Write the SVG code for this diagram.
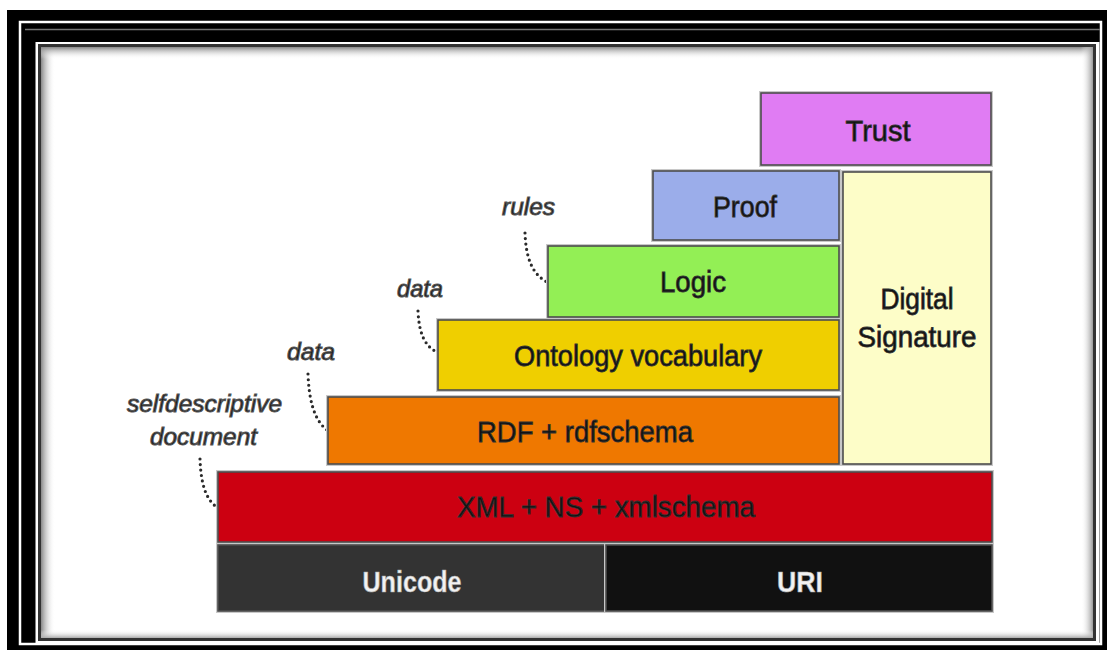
<svg xmlns="http://www.w3.org/2000/svg" width="1107" height="650" viewBox="0 0 1107 650">
<defs>
<linearGradient id="gl" x1="0" y1="0" x2="1" y2="0"><stop offset="0" stop-color="#888"/><stop offset="1" stop-color="#fff" stop-opacity="0"/></linearGradient>
<linearGradient id="gt" x1="0" y1="0" x2="0" y2="1"><stop offset="0" stop-color="#888"/><stop offset="1" stop-color="#fff" stop-opacity="0"/></linearGradient>
<linearGradient id="gr" x1="1" y1="0" x2="0" y2="0"><stop offset="0" stop-color="#999"/><stop offset="1" stop-color="#fff" stop-opacity="0"/></linearGradient>
<linearGradient id="gb" x1="0" y1="1" x2="0" y2="0"><stop offset="0" stop-color="#aaa"/><stop offset="1" stop-color="#fff" stop-opacity="0"/></linearGradient>
</defs>
<style>
.box{stroke:#4d4d4d;stroke-width:1.6}
.halo{fill:none;stroke:#c8c8c8;stroke-width:4}
.t{font-family:"Liberation Sans",Arial,sans-serif;font-size:29px;fill:#111;text-anchor:middle;stroke:#333;stroke-width:0.8}
.w{fill:#f2f2f2;stroke:#aaa;stroke-width:0.6;font-weight:bold}
.lab{font-family:"Liberation Sans",Arial,sans-serif;font-style:italic;font-size:24px;fill:#1a1a1a;stroke:#555;stroke-width:1;text-anchor:start}
.dot{fill:none;stroke:#2a2a2a;stroke-width:3.2;stroke-linecap:round;stroke-dasharray:0 5.5}
</style>
<rect x="0" y="0" width="1107" height="650" fill="#fff"/>
<g id="frame">
<rect x="7" y="10" width="1100" height="640" fill="#000"/>
<rect x="20" y="22" width="1081" height="622" fill="none" stroke="#fff" stroke-width="2.5"/>
<line x1="25" y1="29.5" x2="1100" y2="29.5" stroke="#777" stroke-width="1.6"/>
<rect x="35.5" y="42" width="1064" height="603" fill="#fff"/>
<rect x="39.5" y="45.5" width="1055" height="594" fill="#fff" stroke="#333" stroke-width="3"/>
<rect x="41" y="47" width="14" height="591" fill="url(#gl)"/>
<rect x="41" y="47" width="1052" height="12" fill="url(#gt)"/>
<rect x="1081" y="47" width="12" height="591" fill="url(#gr)"/>
<rect x="41" y="630" width="1052" height="8" fill="url(#gb)"/>
</g>
<g id="connectors">
<path class="dot" d="M200,459 C201,485 206,500 218,508"/>
<path class="dot" d="M308,374 C309,400 314,420 327,430"/>
<path class="dot" d="M418,311 C419,332 424,346 437,352"/>
<path class="dot" d="M525,233 C526,258 532,274 547,282"/>
</g>
<g id="trust">
<rect class="halo" x="761" y="93" width="230" height="72"/>
<rect class="box" x="761" y="93" width="230" height="72" fill="#e07cf3"/>
<text class="t" x="878" y="141" textLength="65" lengthAdjust="spacingAndGlyphs">Trust</text>
</g>
<g id="proof">
<rect class="halo" x="653" y="171" width="186" height="69"/>
<rect class="box" x="653" y="171" width="186" height="69" fill="#9badea"/>
<text class="t" x="745" y="217" textLength="64" lengthAdjust="spacingAndGlyphs">Proof</text>
</g>
<g id="logic">
<rect class="halo" x="548" y="246" width="291" height="71"/>
<rect class="box" x="548" y="246" width="291" height="71" fill="#93ef55"/>
<text class="t" x="693" y="292" textLength="66" lengthAdjust="spacingAndGlyphs">Logic</text>
</g>
<g id="ontology">
<rect class="halo" x="438" y="320" width="401" height="70"/>
<rect class="box" x="438" y="320" width="401" height="70" fill="#efcf00"/>
<text class="t" x="638" y="366" textLength="248" lengthAdjust="spacingAndGlyphs">Ontology vocabulary</text>
</g>
<g id="rdf">
<rect class="halo" x="328" y="397" width="511" height="67"/>
<rect class="box" x="328" y="397" width="511" height="67" fill="#ef7800"/>
<text class="t" x="585" y="442" textLength="216" lengthAdjust="spacingAndGlyphs">RDF + rdfschema</text>
</g>
<g id="digital-signature">
<rect class="halo" x="843" y="172" width="148" height="292"/>
<rect class="box" x="843" y="172" width="148" height="292" fill="#fdfdc8"/>
<text class="t" x="917" y="309" textLength="73" lengthAdjust="spacingAndGlyphs">Digital</text>
<text class="t" x="917" y="347" textLength="119" lengthAdjust="spacingAndGlyphs">Signature</text>
</g>
<g id="xml">
<rect class="halo" x="218" y="472" width="774" height="70"/>
<rect class="box" x="218" y="472" width="774" height="70" fill="#cc0011"/>
<text class="t" x="606" y="517" textLength="298" lengthAdjust="spacingAndGlyphs">XML + NS + xmlschema</text>
</g>
<g id="unicode">
<rect class="halo" x="218" y="545" width="387" height="66"/>
<rect class="box" x="218" y="545" width="387" height="66" fill="#333333"/>
<text class="t w" x="412" y="592" textLength="99" lengthAdjust="spacingAndGlyphs">Unicode</text>
</g>
<g id="uri">
<rect class="halo" x="606" y="545" width="386" height="66"/>
<rect class="box" x="606" y="545" width="386" height="66" fill="#111111"/>
<text class="t w" x="800" y="592" textLength="46" lengthAdjust="spacingAndGlyphs">URI</text>
</g>
<g id="labels">
<text class="lab" x="502" y="215" textLength="53" lengthAdjust="spacingAndGlyphs">rules</text>
<text class="lab" x="397" y="297" textLength="46" lengthAdjust="spacingAndGlyphs">data</text>
<text class="lab" x="287" y="360" textLength="48" lengthAdjust="spacingAndGlyphs">data</text>
<text class="lab" x="127" y="412" textLength="155" lengthAdjust="spacingAndGlyphs">selfdescriptive</text>
<text class="lab" x="150" y="445" textLength="107" lengthAdjust="spacingAndGlyphs">document</text>
</g>
</svg>
